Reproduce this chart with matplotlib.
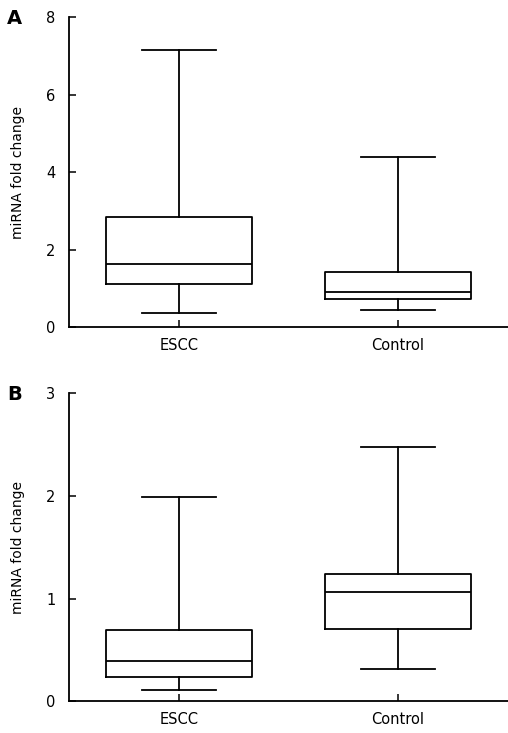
import matplotlib
matplotlib.use("Agg")
import matplotlib.pyplot as plt

groups = ["ESCC", "Control"]

# panel A summary values (whisker low, Q1, median, Q3, whisker high)
a_whislo = [0.36, 0.44]
a_q1 = [1.11, 0.72]
a_med = [1.63, 0.90]
a_q3 = [2.84, 1.42]
a_whishi = [7.15, 4.39]

# panel B
b_whislo = [0.11, 0.31]
b_q1 = [0.24, 0.70]
b_med = [0.39, 1.06]
b_q3 = [0.69, 1.235]
b_whishi = [1.99, 2.47]

plt.rcParams['font.family'] = ['DejaVu Sans']


def draw_panel(ax, whislo, q1, med, q3, whishi, ymax, yticks, letter):
    stats = []
    for i, g in enumerate(groups):
        stats.append(dict(label=g, whislo=whislo[i], q1=q1[i], med=med[i],
                          q3=q3[i], whishi=whishi[i], fliers=[]))
    lw = 1.3
    ax.bxp(stats, positions=[1, 2], widths=0.668, showfliers=False,
           boxprops=dict(color='black', linewidth=lw),
           medianprops=dict(color='black', linewidth=lw),
           whiskerprops=dict(color='black', linewidth=lw),
           capprops=dict(color='black', linewidth=lw),
           capwidths=0.337)
    ax.set_xlim(0.5, 2.5)
    ax.set_ylim(0, ymax)
    ax.set_yticks(yticks)
    ax.set_yticklabels([str(t) for t in yticks])
    ax.spines['top'].set_visible(False)
    ax.spines['right'].set_visible(False)
    for s in ['left', 'bottom']:
        ax.spines[s].set_linewidth(1.3)
    ax.tick_params(axis='both', direction='in', length=5, width=1.1,
                   labelsize=10.5, pad=8)
    ax.tick_params(axis='y', pad=10)
    ax.set_ylabel('miRNA fold change', fontsize=10)
    ax.text(-0.125, 0.995, letter, transform=ax.transAxes, fontsize=14,
            fontweight='bold', ha='center', va='center')


fig = plt.figure(figsize=(5.08, 7.33), dpi=100)
W, H = 508, 733
ax1 = fig.add_axes([69.3 / W, 1 - 327.3 / H, (507.5 - 69.3) / W, 310 / H])
ax2 = fig.add_axes([69.3 / W, 1 - 701.3 / H, (507.5 - 69.3) / W, 308.3 / H])

draw_panel(ax1, a_whislo, a_q1, a_med, a_q3, a_whishi, 8, [0, 2, 4, 6, 8], 'A')
draw_panel(ax2, b_whislo, b_q1, b_med, b_q3, b_whishi, 3, [0, 1, 2, 3], 'B')

for ax in (ax1, ax2):
    ax.yaxis.set_label_coords(-0.101, 0.5)

fig.savefig('out.png', dpi=100)
